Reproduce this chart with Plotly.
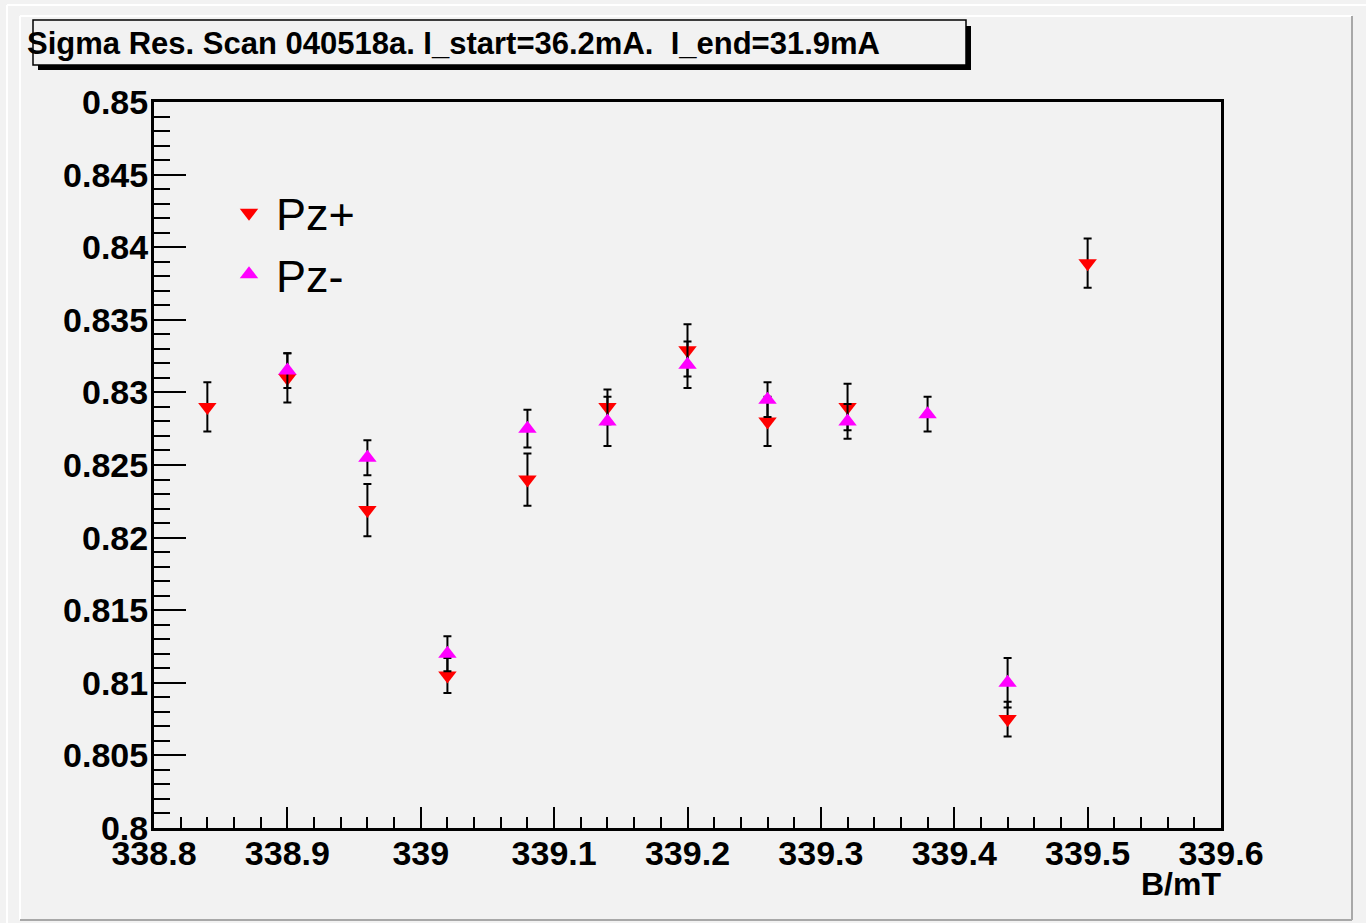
import plotly.graph_objects as go

# Field scan positions (B in mT) and fitted sigma values with errors
b_plus = [338.84, 338.90, 338.96, 339.02, 339.08, 339.14, 339.20, 339.26, 339.32, 339.44, 339.50]
sigma_plus = [0.8290, 0.8310, 0.8219, 0.8105, 0.8240, 0.8290, 0.8329, 0.8280, 0.8290, 0.8075, 0.8389]
err_plus = [0.0017, 0.0017, 0.0018, 0.0012, 0.0018, 0.0012, 0.0018, 0.0017, 0.0016, 0.0012, 0.0017]

b_minus = [338.90, 338.96, 339.02, 339.08, 339.14, 339.20, 339.26, 339.32, 339.38, 339.44]
sigma_minus = [0.8315, 0.8255, 0.8120, 0.8275, 0.8280, 0.8319, 0.8295, 0.8280, 0.8285, 0.8100]
err_minus = [0.0012, 0.0012, 0.0012, 0.0013, 0.0017, 0.0016, 0.0012, 0.0012, 0.0012, 0.0017]

title_text = "Sigma Res. Scan 040518a. I_start=36.2mA.\u00a0\u00a0I_end=31.9mA"
x_label = "B/mT"

W, H = 1366, 923
ML, MR, MT, MB = 154, 145, 102, 95
PW, PH = W - ML - MR, H - MT - MB


def px(x):
    return (x - ML) / PW


def py(y):
    return (H - MB - y) / PH


BG = "#f2f2f2"
FONT = "Liberation Sans, Arial, Helvetica, sans-serif"

fig = go.Figure()

fig.add_trace(go.Scatter(
    x=b_plus, y=sigma_plus, name="Pz+", mode="markers",
    marker=dict(symbol="triangle-down", size=16, color="#ff0000", line=dict(width=0)),
    error_y=dict(type="data", array=err_plus, color="black", thickness=2, width=4),
))
fig.add_trace(go.Scatter(
    x=b_minus, y=sigma_minus, name="Pz-", mode="markers",
    marker=dict(symbol="triangle-up", size=16, color="#ff00ff", line=dict(width=0)),
    error_y=dict(type="data", array=err_minus, color="black", thickness=2, width=4),
))

tick_font = dict(family=FONT, size=34, color="black", weight="bold")

fig.update_xaxes(
    range=[338.8, 339.6], tick0=338.8, dtick=0.1,
    ticks="inside", ticklen=21, tickwidth=2, tickcolor="black",
    minor=dict(ticks="inside", dtick=0.02, ticklen=11, tickwidth=2, tickcolor="black"),
    showline=True, linewidth=3, linecolor="black", mirror=True,
    showgrid=False, zeroline=False, tickfont=tick_font,
    ticklabelstandoff=-7,
)
fig.update_yaxes(
    range=[0.8, 0.85], tick0=0.8, dtick=0.005,
    ticks="inside", ticklen=32, tickwidth=2, tickcolor="black",
    minor=dict(ticks="inside", dtick=0.001, ticklen=16, tickwidth=2, tickcolor="black"),
    showline=True, linewidth=3, linecolor="black", mirror=True,
    showgrid=False, zeroline=False, tickfont=tick_font,
    ticklabelstandoff=-4,
)

shapes = []
# canvas bevel lines
shapes.append(dict(type="line", xref="paper", yref="paper", x0=px(7), x1=px(7), y0=py(5), y1=py(923),
                   line=dict(color="#ffffff", width=2), layer="below"))
shapes.append(dict(type="line", xref="paper", yref="paper", x0=px(7), x1=px(1366), y0=py(5), y1=py(5),
                   line=dict(color="#ffffff", width=2), layer="below"))
shapes.append(dict(type="line", xref="paper", yref="paper", x0=px(20), x1=px(20), y0=py(16), y1=py(920),
                   line=dict(color="#ffffff", width=2), layer="below"))
shapes.append(dict(type="line", xref="paper", yref="paper", x0=px(20), x1=px(1352), y0=py(16), y1=py(16),
                   line=dict(color="#ffffff", width=2), layer="below"))
shapes.append(dict(type="line", xref="paper", yref="paper", x0=px(20), x1=px(1352), y0=py(920), y1=py(920),
                   line=dict(color="#a8a8a8", width=2), layer="below"))
shapes.append(dict(type="line", xref="paper", yref="paper", x0=px(1352), x1=px(1352), y0=py(16), y1=py(920),
                   line=dict(color="#a8a8a8", width=2), layer="below"))
# title box with drop shadow
shapes.append(dict(type="rect", xref="paper", yref="paper", x0=px(966), x1=px(971), y0=py(26), y1=py(70),
                   fillcolor="black", line=dict(width=0)))
shapes.append(dict(type="rect", xref="paper", yref="paper", x0=px(38), x1=px(971), y0=py(65), y1=py(70),
                   fillcolor="black", line=dict(width=0)))
shapes.append(dict(type="rect", xref="paper", yref="paper", x0=px(33), x1=px(966), y0=py(20), y1=py(65),
                   fillcolor=BG, line=dict(color="black", width=1.5)))

annotations = [
    dict(text=title_text, xref="paper", yref="paper", x=px(25), y=py(43), xanchor="left", yanchor="middle",
         showarrow=False, font=dict(family=FONT, size=31, color="black", weight="bold")),
    dict(text=x_label, xref="paper", yref="paper", x=px(1223), y=py(884), xanchor="right", yanchor="middle",
         showarrow=False, font=dict(family=FONT, size=32, color="black", weight="bold")),
]

fig.update_layout(
    width=W, height=H,
    margin=dict(l=ML, r=MR, t=MT, b=MB, pad=0),
    paper_bgcolor=BG, plot_bgcolor=BG,
    shapes=shapes, annotations=annotations,
    showlegend=True,
    legend=dict(x=px(222), y=py(177), xanchor="left", yanchor="top",
                bgcolor="rgba(0,0,0,0)", borderwidth=0, itemwidth=44,
                font=dict(family=FONT, size=45, color="black")),
)

fig.write_html("out.html")
